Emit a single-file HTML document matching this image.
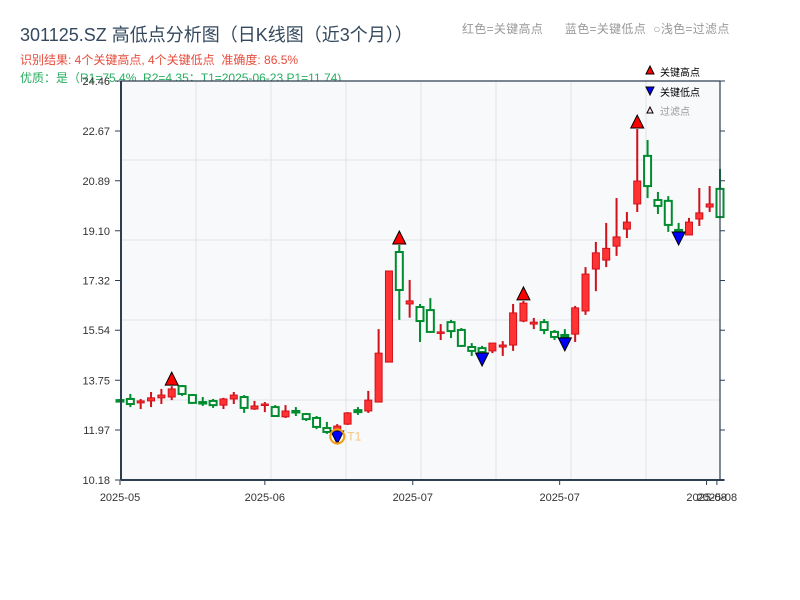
<!DOCTYPE html>
<html><head><meta charset="utf-8"><style>
body{margin:0;background:#fff;font-family:"Liberation Sans","Noto Sans CJK SC",sans-serif}
#wrap{position:relative;width:800px;height:600px;overflow:hidden}
.t{position:absolute;white-space:nowrap}
</style></head><body>
<div id="wrap">
<div class="t" style="left:20px;top:21px;font-size:18px;color:#34495e">301125.SZ 高低点分析图（日K线图（近3个月））</div>
<div class="t" style="left:462px;top:20px;font-size:12px;color:#999;letter-spacing:0.3px">红色=关键高点&nbsp;&nbsp;&nbsp;&nbsp;&nbsp;&nbsp;蓝色=关键低点&nbsp;&nbsp;○浅色=过滤点</div>
<div class="t" style="left:20px;top:51px;font-size:12px;color:#e74c3c">识别结果: 4个关键高点, 4个关键低点&nbsp;&nbsp;准确度: 86.5%</div>
<div class="t" style="left:20px;top:69px;font-size:12px;color:#27ae60">优质：是（R1=75.4%, R2=4.35；T1=2025-06-23 P1=11.74)</div>
<svg id="svg" width="800" height="600" style="position:absolute;left:0;top:0"></svg>
</div>
<script>
const dates=["05-01","05-02","05-05","05-06","05-07","05-08","05-09","05-12","05-13","05-14","05-15","05-16","05-19","05-20","05-21","05-22","05-23","05-26","05-27","05-28","05-29","05-30","06-03","06-04","06-05","06-06","06-09","06-10","06-11","06-12","06-13","06-16","06-17","06-18","06-19","06-20","06-23","06-24","06-25","06-26","06-27","06-30","07-01","07-02","07-03","07-04","07-07","07-08","07-09","07-10","07-11","07-14","07-15","07-16","07-17","07-18","07-21","07-22","07-23"];
const openV=[13.04,13.08,12.94,13.01,13.12,13.15,13.54,13.22,12.97,13.01,12.86,13.08,13.15,12.72,12.86,12.79,12.44,12.65,12.54,12.40,12.04,11.97,12.18,12.68,12.65,12.97,14.40,18.34,16.48,16.37,16.26,15.44,15.83,15.55,14.94,14.90,14.80,14.94,15.01,15.87,15.76,15.83,15.48,15.37,15.40,16.23,17.73,18.05,18.55,19.16,20.06,21.78,20.20,20.17,19.13,18.95,19.52,19.95,20.60];
const closeV=[13.03,12.90,13.01,13.12,13.22,13.44,13.26,12.94,12.94,12.86,13.08,13.22,12.76,12.83,12.90,12.47,12.65,12.61,12.36,12.08,11.90,12.11,12.58,12.61,13.04,14.72,17.66,16.98,16.59,15.87,15.48,15.48,15.51,14.98,14.80,14.76,15.08,15.01,16.16,16.51,15.83,15.55,15.30,15.30,16.34,17.55,18.31,18.47,18.88,19.41,20.88,20.70,19.99,19.31,19.09,19.41,19.74,20.06,19.59];
const highV=[13.08,13.26,13.08,13.33,13.44,13.54,13.58,13.26,13.15,13.08,13.12,13.33,13.22,13.01,12.97,12.86,12.86,12.79,12.58,12.47,12.26,12.18,12.61,12.79,13.37,15.58,17.66,18.59,17.34,16.48,16.69,15.76,15.91,15.62,15.08,14.98,15.08,15.15,16.48,16.59,15.98,15.94,15.55,15.58,16.41,17.80,18.70,19.38,20.27,19.77,22.74,22.35,20.49,20.34,19.38,19.56,20.63,20.70,21.31];
const lowV=[13.00,12.79,12.72,12.79,12.90,13.04,13.19,12.90,12.83,12.76,12.72,12.90,12.58,12.69,12.61,12.44,12.40,12.47,12.29,12.00,11.83,11.90,12.15,12.51,12.58,12.97,14.40,15.91,15.99,15.12,15.48,15.19,15.26,14.94,14.62,14.69,14.72,14.62,14.80,15.83,15.58,15.40,15.19,15.23,15.12,16.09,16.94,17.80,18.20,18.84,19.77,20.27,19.70,19.06,19.02,18.95,19.27,19.77,19.56];
const keyHighIdx=[5,27,39,50];
const keyLowIdx=[21,35,43,54];
const yTicks=[10.18,11.97,13.75,15.54,17.32,19.10,20.89,22.67,24.46];
const xLabels=["2025-05","2025-06","2025-07","2025-07","2025-08","2025-08"];
const xLabelIdx=[0,14,28.3,42.5,56.7,57.7];
const t1Idx=21, t1Price=11.74;

const L=121,R=720,T=81,B=480,yMin=10.18,yMax=24.46;
const y=v=>B-(v-yMin)/(yMax-yMin)*(B-T);
const x=i=>120+i*(600/58);
const svg=document.getElementById('svg');
const NS='http://www.w3.org/2000/svg';
function mk(tag,at,parent){const e=document.createElementNS(NS,tag);for(const k in at)e.setAttribute(k,at[k]);(parent||svg).appendChild(e);return e;}

let e=mk('rect',{x:L,y:T,width:R-L,height:B-T,fill:'#f7f9fb'});


for(let gy=160;gy<B;gy+=80){e=mk('line',{x1:L,x2:R,y1:gy,y2:gy,stroke:'#e1e4e8','stroke-width':1});

}
for(let gx=196;gx<R;gx+=75){e=mk('line',{x1:gx,x2:gx,y1:T,y2:B,stroke:'#e1e4e8','stroke-width':1});

}

for(let i=0;i<dates.length;i++){
  const up=closeV[i]>=openV[i];
  const g=mk('g',{});
  
  
  mk('line',{x1:x(i),x2:x(i),y1:y(highV[i]),y2:y(lowV[i]),stroke:up?'#d0101a':'#008c2e','stroke-width':2},g);
  const top=y(Math.max(openV[i],closeV[i])),bot=y(Math.min(openV[i],closeV[i]));
  mk('rect',{x:x(i)-3.5,y:top,width:7,height:Math.max(bot-top,1.5),fill:up?'#ff3333':'#fff',stroke:up?'#d0101a':'#008c2e','stroke-width':up?1:2},g);
}
keyHighIdx.forEach(i=>{const cx=x(i),cy=y(highV[i])-1;
 const m=mk('polygon',{points:`${cx},${cy-13} ${cx-6.5},${cy} ${cx+6.5},${cy}`,fill:'#f00',stroke:'#000','stroke-width':1});
 
 });
keyLowIdx.forEach(i=>{const cx=x(i),cy=y(lowV[i])-1;
 const m=mk('polygon',{points:`${cx-6.5},${cy} ${cx+6.5},${cy} ${cx},${cy+13}`,fill:'#00f',stroke:'#000','stroke-width':1});
 
 });
e=mk('circle',{cx:x(t1Idx),cy:y(t1Price),r:7,fill:'none',stroke:'#f39c12','stroke-width':2});


e=mk('text',{x:x(t1Idx)+10,y:y(t1Price)+4,'font-size':12,fill:'#f5c57a','font-family':'Liberation Sans'});e.textContent='T1';



e=mk('path',{d:`M${L},${T}H${R}M${R},${T}V${B}`,stroke:'#2c3e50','stroke-width':1.2,fill:'none'});


e=mk('line',{x1:L,x2:L,y1:T,y2:B,stroke:'#2c3e50','stroke-width':2});


e=mk('line',{x1:L,x2:R+4,y1:B,y2:B,stroke:'#2c3e50','stroke-width':2});


yTicks.forEach(v=>{const ty=y(v);
 mk('line',{x1:L-6,x2:L,y1:ty,y2:ty,stroke:'#2c3e50','stroke-width':1});
 mk('line',{x1:R,x2:R+5,y1:ty,y2:ty,stroke:'#2c3e50','stroke-width':1});
 const tx=mk('text',{x:L-11,y:ty+4,'text-anchor':'end','font-size':11,fill:'#333','font-family':'Liberation Sans'});
 tx.textContent=v.toFixed(2);
 
 });
xLabels.forEach((s,k)=>{const tx0=x(xLabelIdx[k]);
 mk('line',{x1:tx0,x2:tx0,y1:B,y2:B+5,stroke:'#2c3e50','stroke-width':1});
 const tx=mk('text',{x:tx0,y:B+21,'text-anchor':'middle','font-size':11,fill:'#333','font-family':'Liberation Sans'});
 tx.textContent=s;
 
 });

const lg=mk('g',{});


mk('polygon',{points:'650,66 646,74 654,74',fill:'#f00',stroke:'#000','stroke-width':1},lg);
mk('polygon',{points:'646,87 654,87 650,95',fill:'#00f',stroke:'#000','stroke-width':1},lg);
mk('polygon',{points:'650,107 647,113 653,113',fill:'#fde',stroke:'#000','stroke-width':1},lg);
[['关键高点',76,'#000'],['关键低点',96,'#000'],['过滤点',115,'#999']].forEach(a=>{
 const tx=mk('text',{x:660,y:a[1],'font-size':10,fill:a[2],'font-family':'Liberation Sans, Noto Sans CJK SC, sans-serif'},lg);
 tx.textContent=a[0];
 
 });
</script>
</body></html>
